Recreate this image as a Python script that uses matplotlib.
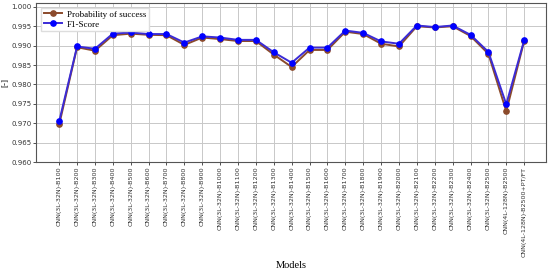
import matplotlib
matplotlib.use("Agg")
import matplotlib.pyplot as plt

models = [f"CNN(3L-32N)-B{b}" for b in range(100, 2600, 100)] + [
    "CNN(4L-128N)-B2500", "CNN(4L-128N)-B2500+PT/FT"]

prob_success = [0.9697, 0.9896, 0.9887, 0.9927, 0.9931, 0.9928, 0.9927, 0.9902,
                0.9921, 0.9917, 0.9912, 0.9912, 0.9877, 0.9845, 0.9889, 0.9889,
                0.9936, 0.9930, 0.9905, 0.9898, 0.9950, 0.9947, 0.9950, 0.9925,
                0.9879, 0.9731, 0.9912]
f1_score = [0.9705, 0.9898, 0.9892, 0.9931, 0.9934, 0.9930, 0.9930, 0.9908,
            0.9924, 0.9921, 0.9915, 0.9915, 0.9883, 0.9856, 0.9895, 0.9895,
            0.9939, 0.9933, 0.9911, 0.9905, 0.9952, 0.9948, 0.9952, 0.9928,
            0.9884, 0.9749, 0.9914]

fig = plt.figure(figsize=(5.5, 2.72), dpi=100)
ax = fig.add_axes([0.066, 0.404, 0.927, 0.585])

x = range(len(models))
ax.plot(x, prob_success, color="#8b4a2b", marker="o", markersize=3.8, linewidth=1.4,
        label="Probability of success", zorder=3)
ax.plot(x, f1_score, color="#3b2bd6", marker="o", markersize=3.8, markerfacecolor="blue",
        markeredgecolor="blue", linewidth=1.4, label="F1-Score", zorder=4)

ax.set_xlim(-1.28, len(models) - 1 + 1.23)
ax.set_ylim(0.960, 1.001)
ax.set_yticks([0.960 + 0.005 * i for i in range(9)])
ax.set_yticklabels([f"{0.960 + 0.005 * i:.3f}" for i in range(9)], fontsize=5.0)
ax.set_xticks(list(x))
ax.set_xticklabels(models, rotation=90, fontsize=4.6)
ax.grid(True, color="#c8c8c8", linewidth=0.7)
ax.set_axisbelow(True)
ax.tick_params(length=2, width=0.6, pad=1.2, colors="#333333")
for s in ax.spines.values():
    s.set_color("#555555")
    s.set_linewidth(0.8)

ax.set_ylabel("[-]", fontsize=6.5, family="Liberation Serif")
ax.yaxis.set_label_coords(-0.053, 0.5)
ax.set_xlabel("Models", fontsize=7.5, family="Liberation Serif")
ax.xaxis.set_label_coords(0.5, -0.62)
ax.legend(loc="upper left", prop={"family": "Liberation Serif", "size": 6.5},
          frameon=True, framealpha=1, edgecolor="#dddddd", fancybox=False,
          borderpad=0.3, labelspacing=0.2, handlelength=2.0, handletextpad=0.6)

fig.savefig("out.png", dpi=100)
